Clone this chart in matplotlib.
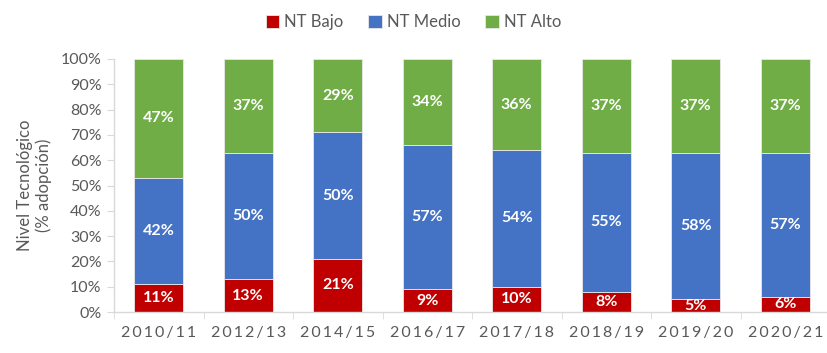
import matplotlib
matplotlib.use("Agg")
import matplotlib.pyplot as plt
import numpy as np

categories = ["2010/11", "2012/13", "2014/15", "2016/17", "2017/18", "2018/19", "2019/20", "2020/21"]
nt_bajo = [11, 13, 21, 9, 10, 8, 5, 6]
nt_medio = [42, 50, 50, 57, 54, 55, 58, 57]
nt_alto = [47, 37, 29, 34, 36, 37, 37, 37]
series_names = ["NT Bajo", "NT Medio", "NT Alto"]
colors = ["#C00000", "#4472C4", "#70AD47"]

plt.rcParams['font.family'] = ['Lato', 'DejaVu Sans']

fig = plt.figure(figsize=(8.27, 3.53), dpi=100)
ax = fig.add_axes([114/827, 1-312/353, (830-114)/827, (312-59)/353])

x = np.arange(len(categories))
bottom = np.zeros(len(categories))
handles = []
for vals, name, col in zip([nt_bajo, nt_medio, nt_alto], series_names, colors):
    vals = np.array(vals, dtype=float)
    b = ax.bar(x, vals, 0.55, bottom=bottom, color=col, edgecolor="#E8E8E8", linewidth=0.6, label=name)
    handles.append(b)
    for xi, v, bt in zip(x, vals, bottom):
        ax.text(xi, bt + v/2, f"{int(v)}%", ha="center", va="center", color="white",
                fontsize=11.5, fontweight="bold")
    bottom += vals

ax.set_xlim(-0.5, len(categories) - 0.5)
ax.set_ylim(0, 100)
ax.set_yticks(np.arange(0, 101, 10))
ax.set_yticklabels([f"{v}%" for v in range(0, 101, 10)], fontsize=11.5, color="#595959")
ax.set_xticks(x)
ax.set_xticklabels(["\u2009".join(c) for c in categories], fontsize=11.5, color="#595959")
ax.set_xticks(np.arange(-0.5, len(categories) - 0.4, 1), minor=True)
ax.tick_params(axis="x", which="major", length=0, pad=10)
ax.tick_params(axis="x", which="minor", length=5, color="#D9D9D9", direction="out")
ax.tick_params(axis="y", length=5, color="#D9D9D9", pad=4)
for s in ["top", "right"]:
    ax.spines[s].set_visible(False)
ax.spines["left"].set_color("#D9D9D9")
ax.spines["bottom"].set_color("#D9D9D9")
ax.spines["left"].set_linewidth(1)
ax.spines["bottom"].set_linewidth(1)

ax.set_ylabel("Nivel Tecnológico\n(% adopción)", fontsize=12, color="#595959", labelpad=6)

fig.legend(handles=handles, labels=series_names, loc="center", bbox_to_anchor=(0.5, 1-22/353),
           ncol=3, frameon=False, fontsize=12, handlelength=0.8, handleheight=0.8,
           handletextpad=0.3, columnspacing=1.5, labelcolor="#595959")

fig.savefig("out.png", dpi=100)
